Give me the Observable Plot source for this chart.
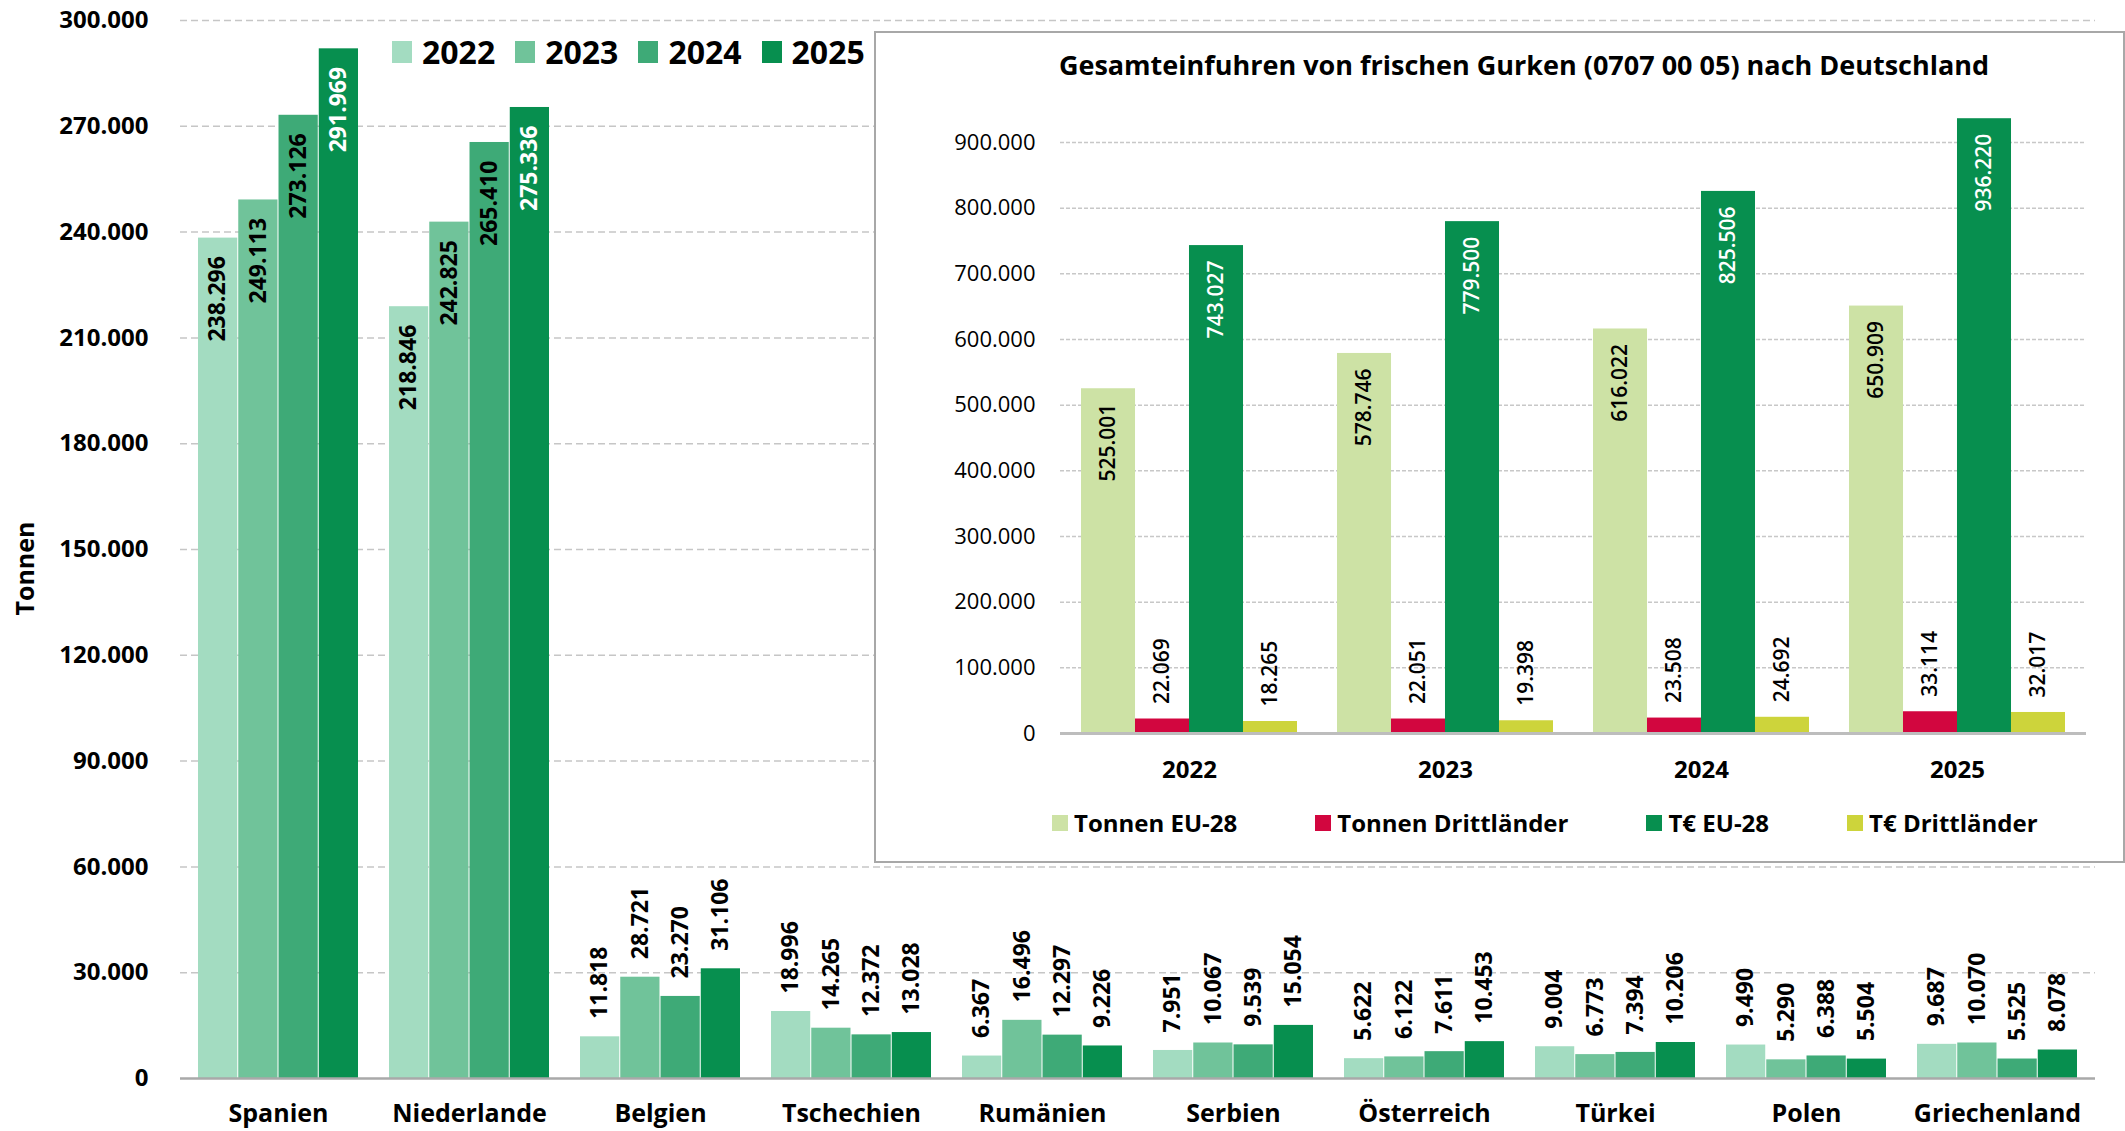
<!DOCTYPE html>
<html>
<head>
<meta charset="utf-8">
<script src="https://cdn.jsdelivr.net/npm/d3@7"></script>
<script src="https://cdn.jsdelivr.net/npm/@observablehq/plot@0.6"></script>
<style>
  html, body { margin: 0; padding: 0; background: #fff; }
  #wrap { position: relative; width: 2125px; height: 1131px; overflow: hidden; font-family: "Open Sans", sans-serif; color: #000; }
  #main { position: absolute; left: 0; top: 0; }
  #legend { position: absolute; left: 392px; top: 36px; display: flex; align-items: center; gap: 20px; font-weight: 700; font-size: 32px; line-height: 32px; }
  #legend .li { display: flex; align-items: center; gap: 10px; }
  #legend .sw { width: 20px; height: 22px; display: inline-block; }
  #inset { position: absolute; left: 874px; top: 31px; width: 1251px; height: 832px; box-sizing: border-box; border: 2px solid #a8a8a8; background: #fff; }
  #inset .plot { position: absolute; left: 0; top: 0; }
  #ititle { position: absolute; left: 648px; top: 18px; transform: translateX(-50%); white-space: nowrap; font-size: 27px; line-height: 27px; font-weight: 700; }
  #ilegend { position: absolute; left: 176px; top: 778px; display: flex; align-items: center; gap: 78px; font-size: 24px; line-height: 24px; font-weight: 700; }
  #ilegend .li { display: flex; align-items: center; gap: 6px; }
  #ilegend .sw { width: 16px; height: 16px; display: inline-block; }
</style>
</head>
<body>
<div id="wrap">
  <div id="main"></div>
  <div id="legend"></div>
  <div id="inset">
    <div class="plot" id="iplot"></div>
    <div id="ititle"></div>
    <div id="ilegend"></div>
  </div>
</div>
<script>
// ---------- Data: main chart (Tonnen by country) ----------
const countries = ["Spanien", "Niederlande", "Belgien", "Tschechien", "Rumänien", "Serbien", "Österreich", "Türkei", "Polen", "Griechenland"];
const years = ["2022", "2023", "2024", "2025"];
const v2022 = [238296, 218846, 11818, 18996, 6367, 7951, 5622, 9004, 9490, 9687];
const v2023 = [249113, 242825, 28721, 14265, 16496, 10067, 6122, 6773, 5290, 10070];
const v2024 = [273126, 265410, 23270, 12372, 12297, 9539, 7611, 7394, 6388, 5525];
const v2025 = [291969, 275336, 31106, 13028, 9226, 15054, 10453, 10206, 5504, 8078];
const yearColors = ["#a3dcc1", "#70c39a", "#3eaa77", "#078f4f"];
const mainTicks = [0, 30000, 60000, 90000, 120000, 150000, 180000, 210000, 240000, 270000, 300000];
const yLabel = "Tonnen";

// ---------- Data: inset chart ----------
const insetTitle = "Gesamteinfuhren von frischen Gurken (0707 00 05) nach Deutschland";
const insetYears = ["2022", "2023", "2024", "2025"];
const insetSeries = ["Tonnen EU-28", "Tonnen Drittländer", "T€ EU-28", "T€ Drittländer"];
const tonnenEU = [525001, 578746, 616022, 650909];
const tonnenDritt = [22069, 22051, 23508, 33114];
const teuroEU = [743027, 779500, 825506, 936220];
const teuroDritt = [18265, 19398, 24692, 32017];
const insetColors = ["#cde2a5", "#d2063f", "#078f4f", "#cdd43b"];
const insetTicks = [0, 100000, 200000, 300000, 400000, 500000, 600000, 700000, 800000, 900000];

const fmt = d3.formatLocale({decimal: ",", thousands: ".", grouping: [3], currency: ["", "€"]}).format(",d");

// ---------- Main chart ----------
const mainSeries = [v2022, v2023, v2024, v2025];
const rows = years.flatMap((yr, i) => countries.map((c, j) => ({country: c, year: yr, i, value: mainSeries[i][j]})));

const W = 2125, H = 1131, mL = 180, mR = 30, mT = 20, mB = 53;
const pI = 0.16, pO = 0.075;
const step = (W - mL - mR) / (countries.length - pI + 2 * pO);
const sub = step * (1 - pI) / years.length;

const mainMarks = [
  Plot.ruleY(mainTicks.filter(d => d > 0), {stroke: "#c6c6c6", strokeWidth: 1.5, strokeDasharray: "7,4"}),
  ...years.map((yr, i) => Plot.barY(rows.filter(d => d.i === i), {
    x: "country", y: "value", fill: "year",
    insetLeft: i * sub, insetRight: (years.length - 1 - i) * sub
  })),
  Plot.ruleY([0], {stroke: "#a9a9a9", strokeWidth: 2.5}),
  ...years.map((yr, i) => Plot.text(rows.filter(d => d.i === i && d.value > 100000), {
    x: "country", y: "value", text: d => fmt(d.value),
    rotate: -90, textAnchor: "end", lineAnchor: "middle",
    dx: (i - 1.5) * sub, dy: 18, fill: i === 3 ? "#ffffff" : "#000000",
    fontSize: 23, fontWeight: 700
  })),
  ...years.map((yr, i) => Plot.text(rows.filter(d => d.i === i && d.value <= 100000), {
    x: "country", y: "value", text: d => fmt(d.value),
    rotate: -90, textAnchor: "start", lineAnchor: "middle",
    dx: (i - 1.5) * sub, dy: -18, fill: "#000000",
    fontSize: 23, fontWeight: 700
  })),
  Plot.axisY({ticks: mainTicks, tickSize: 0, tickPadding: 32, tickFormat: fmt, label: null, fontSize: 24, fontWeight: 700}),
  Plot.axisX({tickSize: 0, tickPadding: 26, label: null, fontSize: 25, fontWeight: 700}),
  Plot.text([yLabel], {frameAnchor: "left", dx: -155, dy: 19, rotate: -90, textAnchor: "middle", lineAnchor: "middle", fontSize: 25, fontWeight: 700})
];

const mainPlot = Plot.plot({
  width: W, height: H,
  marginLeft: mL, marginRight: mR, marginTop: mT, marginBottom: mB,
  style: {fontFamily: "Open Sans", fontSize: "23px", fontWeight: 700, color: "#000", background: "transparent", overflow: "visible"},
  x: {type: "band", domain: countries, paddingInner: pI, paddingOuter: pO, axis: null},
  y: {domain: [0, 300000], axis: null},
  color: {domain: years, range: yearColors},
  marks: mainMarks
});
document.getElementById("main").appendChild(mainPlot);

// Main legend
const leg = document.getElementById("legend");
years.forEach((yr, i) => {
  const it = document.createElement("div");
  it.className = "li";
  const sw = document.createElement("span");
  sw.className = "sw";
  sw.style.background = yearColors[i];
  const tx = document.createElement("span");
  tx.textContent = yr;
  it.appendChild(sw); it.appendChild(tx);
  leg.appendChild(it);
});

// ---------- Inset chart ----------
const insetVals = [tonnenEU, tonnenDritt, teuroEU, teuroDritt];
const irows = insetSeries.flatMap((s, i) => insetYears.map((yr, j) => ({year: yr, series: s, i, value: insetVals[i][j]})));

const IW = 1247, IH = 828, imL = 184, imR = 37, imT = 109, imB = 128;
const ipI = 0.158, ipO = 0.079;
const istep = (IW - imL - imR) / (insetYears.length - ipI + 2 * ipO);
const isub = istep * (1 - ipI) / insetSeries.length;

const insetMarks = [
  Plot.ruleY(insetTicks.filter(d => d > 0), {stroke: "#c8c8c8", strokeWidth: 1.5, strokeDasharray: "4,2"}),
  ...insetSeries.map((s, i) => Plot.barY(irows.filter(d => d.i === i), {
    x: "year", y: "value", fill: "series",
    insetLeft: i * isub, insetRight: (insetSeries.length - 1 - i) * isub
  })),
  Plot.ruleY([0], {stroke: "#bdbdbd", strokeWidth: 3}),
  ...insetSeries.flatMap((s, i) => [
    Plot.text(irows.filter(d => d.i === i && d.value > 100000), {
      x: "year", y: "value", text: d => fmt(d.value),
      rotate: -90, lineAnchor: "middle", textAnchor: "end",
      dx: (i - 1.5) * isub, dy: 15, fill: i === 2 ? "#ffffff" : "#000000",
      fontSize: 21, fontWeight: 600
    }),
    Plot.text(irows.filter(d => d.i === i && d.value <= 100000), {
      x: "year", y: "value", text: d => fmt(d.value),
      rotate: -90, lineAnchor: "middle", textAnchor: "start",
      dx: (i - 1.5) * isub, dy: -15, fill: "#000000",
      fontSize: 21, fontWeight: 600
    })
  ]),
  Plot.axisY({ticks: insetTicks, tickSize: 0, tickPadding: 25, tickFormat: fmt, label: null, fontSize: 22, fontWeight: 400}),
  Plot.axisX({tickSize: 0, tickPadding: 27, label: null, fontSize: 24, fontWeight: 700})
];

const insetPlot = Plot.plot({
  width: IW, height: IH,
  marginLeft: imL, marginRight: imR, marginTop: imT, marginBottom: imB,
  style: {fontFamily: "Open Sans", fontSize: "22px", fontWeight: 400, color: "#000", background: "transparent", overflow: "visible"},
  x: {type: "band", domain: insetYears, paddingInner: ipI, paddingOuter: ipO, axis: null},
  y: {domain: [0, 900000], axis: null},
  color: {domain: insetSeries, range: insetColors},
  marks: insetMarks
});
document.getElementById("iplot").appendChild(insetPlot);
document.getElementById("ititle").textContent = insetTitle;

const ileg = document.getElementById("ilegend");
insetSeries.forEach((s, i) => {
  const it = document.createElement("div");
  it.className = "li";
  const sw = document.createElement("span");
  sw.className = "sw";
  sw.style.background = insetColors[i];
  const tx = document.createElement("span");
  tx.textContent = s;
  it.appendChild(sw); it.appendChild(tx);
  ileg.appendChild(it);
});
</script>
</body>
</html>
